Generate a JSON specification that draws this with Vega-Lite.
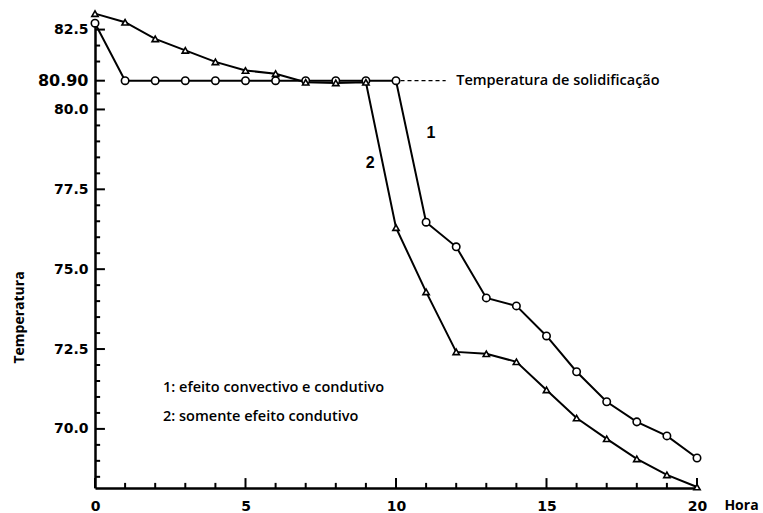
{
  "$schema": "https://vega.github.io/schema/vega-lite/v6.json",
  "width": 602,
  "height": 468,
  "autosize": {"type": "none"},
  "padding": {"left": 95, "top": 20, "right": 66, "bottom": 25},
  "background": "white",
  "config": {"view": {"stroke": null}},
  "datasets": {
    "series": [
      {"hora": 0, "temp": 82.7, "curva": "1"},
      {"hora": 1, "temp": 80.9, "curva": "1"},
      {"hora": 2, "temp": 80.9, "curva": "1"},
      {"hora": 3, "temp": 80.9, "curva": "1"},
      {"hora": 4, "temp": 80.9, "curva": "1"},
      {"hora": 5, "temp": 80.9, "curva": "1"},
      {"hora": 6, "temp": 80.9, "curva": "1"},
      {"hora": 7, "temp": 80.9, "curva": "1"},
      {"hora": 8, "temp": 80.9, "curva": "1"},
      {"hora": 9, "temp": 80.9, "curva": "1"},
      {"hora": 10, "temp": 80.9, "curva": "1"},
      {"hora": 11, "temp": 76.47, "curva": "1"},
      {"hora": 12, "temp": 75.7, "curva": "1"},
      {"hora": 13, "temp": 74.1, "curva": "1"},
      {"hora": 14, "temp": 73.85, "curva": "1"},
      {"hora": 15, "temp": 72.91, "curva": "1"},
      {"hora": 16, "temp": 71.79, "curva": "1"},
      {"hora": 17, "temp": 70.85, "curva": "1"},
      {"hora": 18, "temp": 70.22, "curva": "1"},
      {"hora": 19, "temp": 69.78, "curva": "1"},
      {"hora": 20, "temp": 69.09, "curva": "1"},
      {"hora": 0, "temp": 83.0, "curva": "2"},
      {"hora": 1, "temp": 82.73, "curva": "2"},
      {"hora": 2, "temp": 82.21, "curva": "2"},
      {"hora": 3, "temp": 81.85, "curva": "2"},
      {"hora": 4, "temp": 81.49, "curva": "2"},
      {"hora": 5, "temp": 81.22, "curva": "2"},
      {"hora": 6, "temp": 81.12, "curva": "2"},
      {"hora": 7, "temp": 80.85, "curva": "2"},
      {"hora": 8, "temp": 80.83, "curva": "2"},
      {"hora": 9, "temp": 80.85, "curva": "2"},
      {"hora": 10, "temp": 76.3, "curva": "2"},
      {"hora": 11, "temp": 74.29, "curva": "2"},
      {"hora": 12, "temp": 72.41, "curva": "2"},
      {"hora": 13, "temp": 72.35, "curva": "2"},
      {"hora": 14, "temp": 72.1, "curva": "2"},
      {"hora": 15, "temp": 71.22, "curva": "2"},
      {"hora": 16, "temp": 70.34, "curva": "2"},
      {"hora": 17, "temp": 69.69, "curva": "2"},
      {"hora": 18, "temp": 69.06, "curva": "2"},
      {"hora": 19, "temp": 68.56, "curva": "2"},
      {"hora": 20, "temp": 68.18, "curva": "2"}
    ],
    "textos": [
      {"hora": 12.0, "temp": 80.9, "texto": "Temperatura de solidificação"},
      {"hora": 2.26, "temp": 71.28, "texto": "1: efeito convectivo e condutivo"},
      {"hora": 2.26, "temp": 70.38, "texto": "2: somente efeito condutivo"}
    ],
    "rotulos": [
      {"hora": 11.16, "temp": 79.27, "texto": "1"},
      {"hora": 9.14, "temp": 78.33, "texto": "2"}
    ],
    "ref": [
      {"hora": 10.15, "hora2": 11.65, "temp": 80.9}
    ],
    "xMaior": [{"hora": 0}, {"hora": 5}, {"hora": 10}, {"hora": 15}, {"hora": 20}],
    "xMenor": [{"hora": 1}, {"hora": 2}, {"hora": 3}, {"hora": 4}, {"hora": 6}, {"hora": 7}, {"hora": 8}, {"hora": 9}, {"hora": 11}, {"hora": 12}, {"hora": 13}, {"hora": 14}, {"hora": 16}, {"hora": 17}, {"hora": 18}, {"hora": 19}],
    "yMaior": [{"temp": 70}, {"temp": 72.5}, {"temp": 75}, {"temp": 77.5}, {"temp": 80}, {"temp": 80.9}, {"temp": 82.5}],
    "yMenor": [{"temp": 68.5}, {"temp": 69}, {"temp": 69.5}, {"temp": 70.5}, {"temp": 71}, {"temp": 71.5}, {"temp": 72}, {"temp": 73}, {"temp": 73.5}, {"temp": 74}, {"temp": 74.5}, {"temp": 75.5}, {"temp": 76}, {"temp": 76.5}, {"temp": 77}, {"temp": 78}, {"temp": 78.5}, {"temp": 79}, {"temp": 79.5}, {"temp": 80.5}, {"temp": 81.5}, {"temp": 82}]
  },
  "resolve": {"axis": {"x": "independent", "y": "independent"}},
  "layer": [
    {
      "data": {"name": "ref"},
      "mark": {"type": "rule", "stroke": "black", "strokeWidth": 1.3, "strokeDash": [4, 3]},
      "encoding": {
        "x": {"field": "hora", "type": "quantitative", "scale": {"domain": [0, 20], "nice": false, "zero": false},
          "axis": {
            "orient": "bottom",
            "values": [0, 5, 10, 15, 20],
            "format": "d",
            "ticks": false,
            "domainColor": "black",
            "domainWidth": 2.5,
            "grid": false,
            "labelPadding": 11,
            "labelOverlap": false,
            "labelFont": "DejaVu Sans",
            "labelFontWeight": "bold",
            "labelFontSize": 14,
            "labelColor": "black",
            "labelFlush": false,
            "title": "Hora",
            "titleFont": "Open Sans",
            "titleFontWeight": 700,
            "titleFontSize": 14,
            "titleColor": "black",
            "titleX": 646,
            "titleY": 17,
            "titleAlign": "center",
            "titleBaseline": "middle"
          }},
        "x2": {"field": "hora2"},
        "y": {"field": "temp", "type": "quantitative", "scale": {"domain": [68.15, 82.8], "nice": false, "zero": false},
          "axis": {
            "orient": "left",
            "values": [70, 72.5, 75, 77.5, 80, 80.9, 82.5],
            "labelExpr": "datum.value === 80.9 ? '80.90' : format(datum.value, '.1f')",
            "ticks": false,
            "domainColor": "black",
            "domainWidth": 2.5,
            "grid": false,
            "labelPadding": 7,
            "labelOverlap": false,
            "labelFont": "DejaVu Sans",
            "labelFontWeight": "bold",
            "labelFontSize": {"condition": {"test": "datum.value === 80.9", "value": 16}, "value": 14},
            "labelColor": "black",
            "labelFlush": false,
            "title": "Temperatura",
            "titleFont": "Open Sans",
            "titleFontWeight": 700,
            "titleFontSize": 14,
            "titleColor": "black",
            "titleX": -76,
            "titleY": 297,
            "titleAlign": "center",
            "titleBaseline": "middle"
          }}
      }
    },
    {
      "data": {"name": "xMaior"},
      "mark": {"type": "rule", "stroke": "black", "strokeWidth": 2},
      "encoding": {
        "x": {"field": "hora", "type": "quantitative", "axis": null},
        "y": {"datum": 68.15, "type": "quantitative", "axis": null},
        "y2": {"datum": 68.46}
      }
    },
    {
      "data": {"name": "xMenor"},
      "mark": {"type": "rule", "stroke": "black", "strokeWidth": 2},
      "encoding": {
        "x": {"field": "hora", "type": "quantitative", "axis": null},
        "y": {"datum": 68.15, "type": "quantitative", "axis": null},
        "y2": {"datum": 68.31}
      }
    },
    {
      "data": {"name": "yMaior"},
      "mark": {"type": "rule", "stroke": "black", "strokeWidth": 2},
      "encoding": {
        "y": {"field": "temp", "type": "quantitative", "axis": null},
        "x": {"datum": 0, "type": "quantitative", "axis": null},
        "x2": {"datum": 0.33}
      }
    },
    {
      "data": {"name": "yMenor"},
      "mark": {"type": "rule", "stroke": "black", "strokeWidth": 2},
      "encoding": {
        "y": {"field": "temp", "type": "quantitative", "axis": null},
        "x": {"datum": 0, "type": "quantitative", "axis": null},
        "x2": {"datum": 0.17}
      }
    },
    {
      "data": {"name": "series"},
      "mark": {"type": "line", "stroke": "black", "strokeWidth": 2},
      "encoding": {
        "x": {"field": "hora", "type": "quantitative", "axis": null},
        "y": {"field": "temp", "type": "quantitative", "axis": null},
        "detail": {"field": "curva", "type": "nominal"}
      }
    },
    {
      "data": {"name": "series"},
      "mark": {"type": "point", "filled": true, "fill": "white", "stroke": "black", "strokeWidth": 1.6, "opacity": 1},
      "encoding": {
        "x": {"field": "hora", "type": "quantitative", "axis": null},
        "y": {"field": "temp", "type": "quantitative", "axis": null},
        "shape": {"field": "curva", "type": "nominal", "scale": {"domain": ["1", "2"], "range": ["circle", "triangle-up"]}, "legend": null},
        "size": {"field": "curva", "type": "nominal", "scale": {"domain": ["1", "2"], "range": [55, 40]}, "legend": null}
      }
    },
    {
      "data": {"name": "textos"},
      "mark": {"type": "text", "align": "left", "baseline": "middle", "font": "Open Sans", "fontWeight": 600, "fontSize": 14.5, "fill": "black"},
      "encoding": {
        "x": {"field": "hora", "type": "quantitative", "axis": null},
        "y": {"field": "temp", "type": "quantitative", "axis": null},
        "text": {"field": "texto", "type": "nominal"}
      }
    },
    {
      "data": {"name": "rotulos"},
      "mark": {"type": "text", "align": "center", "baseline": "middle", "font": "Liberation Sans", "fontWeight": "bold", "fontSize": 16, "fill": "black"},
      "encoding": {
        "x": {"field": "hora", "type": "quantitative", "axis": null},
        "y": {"field": "temp", "type": "quantitative", "axis": null},
        "text": {"field": "texto", "type": "nominal"}
      }
    }
  ]
}
